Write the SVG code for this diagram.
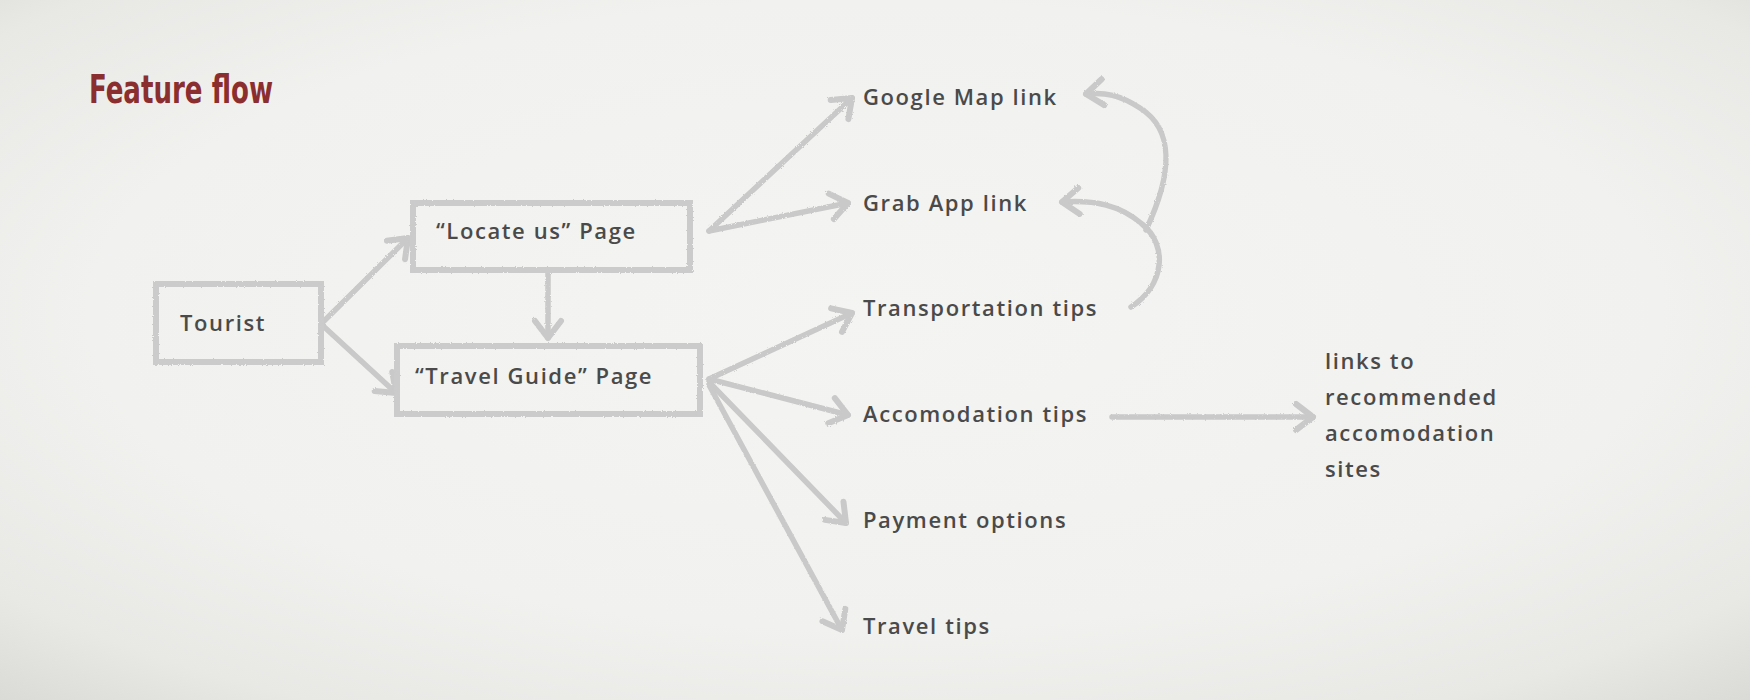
<svg xmlns="http://www.w3.org/2000/svg" width="1750" height="700" viewBox="0 0 1750 700">
  <defs>
    <radialGradient id="bg" cx="50%" cy="45%" r="75%">
      <stop offset="0" stop-color="#f4f4f2"/>
      <stop offset="0.6" stop-color="#f1f1ef"/>
      <stop offset="0.85" stop-color="#e8e8e5"/>
      <stop offset="1" stop-color="#d9d9d5"/>
    </radialGradient>
    <filter id="rough" x="-5%" y="-5%" width="110%" height="110%">
      <feTurbulence type="fractalNoise" baseFrequency="0.9" numOctaves="2" seed="3" result="n"/>
      <feDisplacementMap in="SourceGraphic" in2="n" scale="2.5"/>
    </filter>
    <marker id="arr" markerUnits="userSpaceOnUse" markerWidth="34" markerHeight="34" viewBox="-24 -17 28 34" refX="0" refY="0" orient="auto">
      <path d="M-17,-13 L0,0 L-17,13" fill="none" stroke="#c9c9c9" stroke-width="6" stroke-linecap="round" stroke-linejoin="round"/>
    </marker>
    <style>
      .box { fill: none; stroke: #cbcbcb; stroke-width: 6; }
      .lbl { font-family: "Open Sans", "Noto Sans", "DejaVu Sans", sans-serif; font-size: 22px; font-weight: 600; fill: #4a4a4a; letter-spacing: 1.6px; }
      .con { fill: none; stroke: #c9c9c9; stroke-width: 5.5; stroke-linecap: round; marker-end: url(#arr); }
      .title { font-family: "DejaVu Sans Condensed", "Liberation Sans Narrow", "DejaVu Sans", sans-serif; font-weight: bold; font-size: 39px; fill: #8b2e30; }
    </style>
  </defs>
  <rect width="1750" height="700" fill="url(#bg)"/>

  <text class="title" x="89" y="103" textLength="184" lengthAdjust="spacingAndGlyphs">Feature flow</text>

  <g id="connectors" filter="url(#rough)">
    <line class="con" x1="321" y1="324" x2="408" y2="238"/>
    <line class="con" x1="321" y1="324" x2="396" y2="393"/>
    <line class="con" x1="548" y1="271" x2="548" y2="338"/>
    <line class="con" x1="709" y1="231" x2="852" y2="98"/>
    <line class="con" x1="709" y1="231" x2="848" y2="203"/>
    <line class="con" x1="709" y1="379" x2="852" y2="313"/>
    <line class="con" x1="709" y1="379" x2="848" y2="415"/>
    <line class="con" x1="709" y1="382" x2="846" y2="523"/>
    <line class="con" x1="709" y1="385" x2="842" y2="630"/>
    <line class="con" x1="1112" y1="417" x2="1313" y2="417"/>
    <path class="con" d="M1131,307 C1165,285 1168,245 1142,224 C1120,205 1095,200 1062,202"/>
    <path class="con" d="M1146,230 C1172,175 1175,130 1140,108 C1120,95 1105,92 1086,94"/>
  </g>

  <g id="tourist">
    <rect class="box" x="156" y="284" width="165" height="78" filter="url(#rough)"/>
    <text class="lbl" x="180" y="331">Tourist</text>
  </g>
  <g id="locate">
    <rect class="box" x="413" y="203" width="277" height="67" filter="url(#rough)"/>
    <text class="lbl" x="436" y="239">“Locate us” Page</text>
  </g>
  <g id="travelguide">
    <rect class="box" x="397" y="346" width="303" height="68" filter="url(#rough)"/>
    <text class="lbl" x="415" y="384">“Travel Guide” Page</text>
  </g>
  <g id="googlemap"><text class="lbl" x="863" y="105">Google Map link</text></g>
  <g id="grab"><text class="lbl" x="863" y="211">Grab App link</text></g>
  <g id="transport"><text class="lbl" x="863" y="316">Transportation tips</text></g>
  <g id="accom"><text class="lbl" x="863" y="422">Accomodation tips</text></g>
  <g id="payment"><text class="lbl" x="863" y="528">Payment options</text></g>
  <g id="traveltips"><text class="lbl" x="863" y="634">Travel tips</text></g>
  <g id="links">
    <text class="lbl" x="1325" y="369">links to</text>
    <text class="lbl" x="1325" y="405">recommended</text>
    <text class="lbl" x="1325" y="441">accomodation</text>
    <text class="lbl" x="1325" y="477">sites</text>
  </g>
</svg>
